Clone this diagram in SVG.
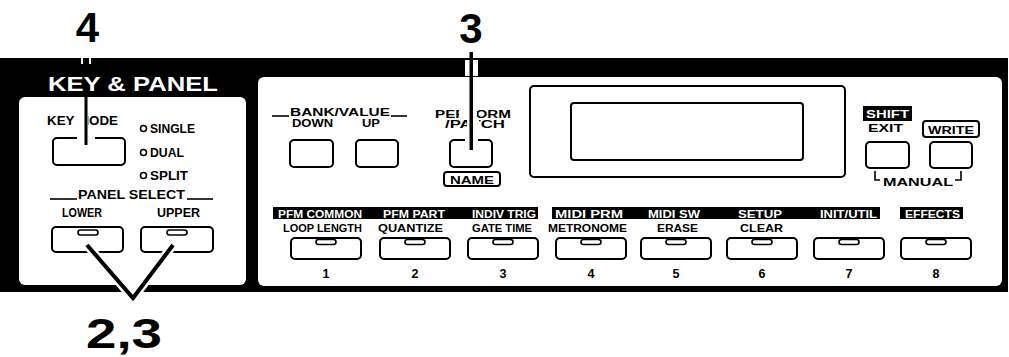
<svg xmlns="http://www.w3.org/2000/svg" width="1009" height="357" viewBox="0 0 1009 357">
<style>
.t{font-family:"Liberation Sans",Arial,Helvetica,sans-serif;font-weight:bold;fill:#000}
.w{fill:#fff}
.s{font-size:11.5px}
.m{font-size:12.5px}
.big{font-size:42px}
.btn{fill:#fff;stroke:#000;stroke-width:2}
.led{fill:#fff;stroke:#000;stroke-width:1.6}
.ln{stroke:#000;fill:none;stroke-width:1.6}
.halo{fill:#fff}
</style>
<rect width="1009" height="357" fill="#fff"/>
<!-- panel body -->
<g id="panel-frame">
  <rect x="0" y="58" width="1008" height="234" fill="#000"/>
  <rect x="19" y="97" width="227" height="188" rx="6" fill="#fff"/>
  <rect x="258" y="77" width="744" height="209" rx="6" fill="#fff"/>
  <text class="t w" x="48" y="91" font-size="21" textLength="170" lengthAdjust="spacingAndGlyphs">KEY &amp; PANEL</text>
</g>
<!-- left panel -->
<g id="key-mode">
  <text class="t" x="47" y="125" font-size="13" textLength="71" lengthAdjust="spacingAndGlyphs">KEY MODE</text>
  <rect class="btn" x="53" y="138" width="72" height="27" rx="4"/>
  <circle cx="143.5" cy="128.5" r="3" class="ln"/>
  <text class="t m" x="150" y="133" textLength="45" lengthAdjust="spacingAndGlyphs">SINGLE</text>
  <circle cx="143.5" cy="152.5" r="3" class="ln"/>
  <text class="t m" x="150" y="157" textLength="34" lengthAdjust="spacingAndGlyphs">DUAL</text>
  <circle cx="143.5" cy="175.5" r="3" class="ln"/>
  <text class="t m" x="150" y="180" textLength="38" lengthAdjust="spacingAndGlyphs">SPLIT</text>
</g>
<g id="panel-select">
  <line x1="50" y1="199" x2="77" y2="199" class="ln"/>
  <line x1="187" y1="199" x2="213" y2="199" class="ln"/>
  <text class="t m" x="78" y="199" textLength="107" lengthAdjust="spacingAndGlyphs">PANEL SELECT</text>
  <text class="t m" x="62" y="217" textLength="40" lengthAdjust="spacingAndGlyphs">LOWER</text>
  <text class="t m" x="157" y="217" textLength="43" lengthAdjust="spacingAndGlyphs">UPPER</text>
  <rect class="btn" x="52" y="227" width="71" height="25" rx="4"/>
  <rect class="led" x="78" y="230" width="20" height="5" rx="2.5"/>
  <rect class="btn" x="141" y="227" width="72" height="25" rx="4"/>
  <rect class="led" x="167" y="230" width="20" height="5" rx="2.5"/>
</g>
<!-- right panel top -->
<g id="bank-value">
  <line x1="272" y1="116" x2="289" y2="116" class="ln"/>
  <line x1="391" y1="116" x2="407" y2="116" class="ln"/>
  <text class="t s" x="290" y="116" textLength="100" lengthAdjust="spacingAndGlyphs">BANK/VALUE</text>
  <text class="t s" x="292" y="127" textLength="41" lengthAdjust="spacingAndGlyphs">DOWN</text>
  <text class="t s" x="362" y="127" textLength="18" lengthAdjust="spacingAndGlyphs">UP</text>
  <rect class="btn" x="290" y="140" width="43" height="27" rx="4"/>
  <rect class="btn" x="356" y="140" width="42" height="27" rx="4"/>
</g>
<g id="perform-patch">
  <text class="t s" x="435" y="118" textLength="76" lengthAdjust="spacingAndGlyphs">PERFORM</text>
  <text class="t s" x="445" y="128" textLength="60" lengthAdjust="spacingAndGlyphs">/PATCH</text>
  <rect class="btn" x="450" y="140" width="42" height="27" rx="4"/>
  <rect x="444" y="172" width="56" height="14" rx="3" fill="#fff" stroke="#000" stroke-width="2"/>
  <text class="t s" x="472" y="183.5" text-anchor="middle" textLength="44" lengthAdjust="spacingAndGlyphs">NAME</text>
</g>
<g id="display">
  <rect x="530" y="86" width="315" height="91" rx="4" fill="#fff" stroke="#000" stroke-width="2"/>
  <rect x="571" y="103" width="232" height="57" rx="3" fill="#fff" stroke="#000" stroke-width="2"/>
</g>
<g id="exit-write">
  <rect x="863" y="106" width="49" height="15" fill="#000"/>
  <text class="t s w" x="887.5" y="118" text-anchor="middle" textLength="43" lengthAdjust="spacingAndGlyphs">SHIFT</text>
  <text class="t s" x="868" y="132" textLength="35" lengthAdjust="spacingAndGlyphs">EXIT</text>
  <rect x="923" y="121" width="56" height="16" rx="3" fill="#fff" stroke="#000" stroke-width="2"/>
  <text class="t s" x="951" y="134" text-anchor="middle" textLength="46" lengthAdjust="spacingAndGlyphs">WRITE</text>
  <rect class="btn" x="866" y="142" width="43" height="26" rx="4"/>
  <rect class="btn" x="930" y="142" width="42" height="26" rx="4"/>
  <polyline points="875,171 875,180 880,180" class="ln"/>
  <polyline points="955,180 961,180 961,171" class="ln"/>
  <text class="t s" x="883" y="186" textLength="70" lengthAdjust="spacingAndGlyphs">MANUAL</text>
</g>
<!-- bottom row -->
<g id="function-labels">
  <rect x="273" y="207" width="265" height="12" fill="#000"/>
  <rect x="552" y="207" width="328" height="12" fill="#000"/>
  <rect x="900" y="207" width="63" height="12" fill="#000"/>
  <text class="t s w" x="278" y="217.5" textLength="84" lengthAdjust="spacingAndGlyphs">PFM COMMON</text>
  <text class="t s w" x="383" y="217.5" textLength="62" lengthAdjust="spacingAndGlyphs">PFM PART</text>
  <text class="t s w" x="472" y="217.5" textLength="64" lengthAdjust="spacingAndGlyphs">INDIV TRIG</text>
  <text class="t s w" x="555" y="217.5" textLength="68" lengthAdjust="spacingAndGlyphs">MIDI PRM</text>
  <text class="t s w" x="648" y="217.5" textLength="52" lengthAdjust="spacingAndGlyphs">MIDI SW</text>
  <text class="t s w" x="738" y="217.5" textLength="44" lengthAdjust="spacingAndGlyphs">SETUP</text>
  <text class="t s w" x="820" y="217.5" textLength="57" lengthAdjust="spacingAndGlyphs">INIT/UTIL</text>
  <text class="t s w" x="905" y="217.5" textLength="55" lengthAdjust="spacingAndGlyphs">EFFECTS</text>
  <text class="t" font-size="10.5" x="283" y="232" textLength="79" lengthAdjust="spacingAndGlyphs">LOOP LENGTH</text>
  <text class="t" font-size="10.5" x="378" y="232" textLength="65" lengthAdjust="spacingAndGlyphs">QUANTIZE</text>
  <text class="t" font-size="10.5" x="472" y="232" textLength="60" lengthAdjust="spacingAndGlyphs">GATE TIME</text>
  <text class="t" font-size="10.5" x="548" y="232" textLength="79" lengthAdjust="spacingAndGlyphs">METRONOME</text>
  <text class="t" font-size="10.5" x="657" y="232" textLength="41" lengthAdjust="spacingAndGlyphs">ERASE</text>
  <text class="t" font-size="10.5" x="740" y="232" textLength="43" lengthAdjust="spacingAndGlyphs">CLEAR</text>
</g>
<g id="button-1"><rect class="btn" x="291" y="238" width="70" height="21" rx="4"/><rect class="led" x="316" y="239.5" width="20" height="5" rx="2.5"/><text class="t m" x="326" y="278" text-anchor="middle">1</text></g>
<g id="button-2"><rect class="btn" x="380" y="238" width="70" height="21" rx="4"/><rect class="led" x="405" y="239.5" width="20" height="5" rx="2.5"/><text class="t m" x="415" y="278" text-anchor="middle">2</text></g>
<g id="button-3"><rect class="btn" x="468" y="238" width="70" height="21" rx="4"/><rect class="led" x="493" y="239.5" width="20" height="5" rx="2.5"/><text class="t m" x="503" y="278" text-anchor="middle">3</text></g>
<g id="button-4"><rect class="btn" x="556" y="238" width="70" height="21" rx="4"/><rect class="led" x="581" y="239.5" width="20" height="5" rx="2.5"/><text class="t m" x="591" y="278" text-anchor="middle">4</text></g>
<g id="button-5"><rect class="btn" x="641" y="238" width="70" height="21" rx="4"/><rect class="led" x="666" y="239.5" width="20" height="5" rx="2.5"/><text class="t m" x="676" y="278" text-anchor="middle">5</text></g>
<g id="button-6"><rect class="btn" x="727" y="238" width="70" height="21" rx="4"/><rect class="led" x="752" y="239.5" width="20" height="5" rx="2.5"/><text class="t m" x="762" y="278" text-anchor="middle">6</text></g>
<g id="button-7"><rect class="btn" x="814" y="238" width="70" height="21" rx="4"/><rect class="led" x="839" y="239.5" width="20" height="5" rx="2.5"/><text class="t m" x="849" y="278" text-anchor="middle">7</text></g>
<g id="button-8"><rect class="btn" x="901" y="238" width="70" height="21" rx="4"/><rect class="led" x="926" y="239.5" width="20" height="5" rx="2.5"/><text class="t m" x="936" y="278" text-anchor="middle">8</text></g>
<!-- callouts -->
<g id="callout-4">
  <text class="t big" x="87.5" y="42" text-anchor="middle">4</text>
  <rect class="halo" x="81" y="58" width="2" height="6"/>
  <rect class="halo" x="89" y="58" width="2" height="6"/>
  <rect class="halo" x="77.5" y="112" width="10.5" height="15"/>
  <rect class="halo" x="77" y="135" width="18" height="6"/>
  <rect x="84.5" y="97" width="3" height="48" fill="#000"/>
</g>
<g id="callout-3">
  <text class="t big" x="471" y="43" text-anchor="middle">3</text>
  <rect class="halo" x="465" y="60" width="13" height="16"/>
  <rect class="halo" x="459" y="108" width="18" height="12"/>
  <rect class="halo" x="467" y="119" width="12" height="11"/>
  <rect class="halo" x="465" y="137" width="13" height="6"/>
  <rect x="469.5" y="52" width="3.5" height="98" fill="#000"/>
</g>
<g id="callout-23">
  <polygon class="halo" points="119,283 145,283 137,294 129,294"/>
  <path d="M87,245 L133,298 L173,245" fill="none" stroke="#fff" stroke-width="9"/>
  <path d="M87,245 L133,298 L173,245" fill="none" stroke="#000" stroke-width="4" stroke-linejoin="miter"/>
  <text class="t big" x="124" y="348" text-anchor="middle" textLength="76" lengthAdjust="spacingAndGlyphs">2,3</text>
</g>
</svg>
